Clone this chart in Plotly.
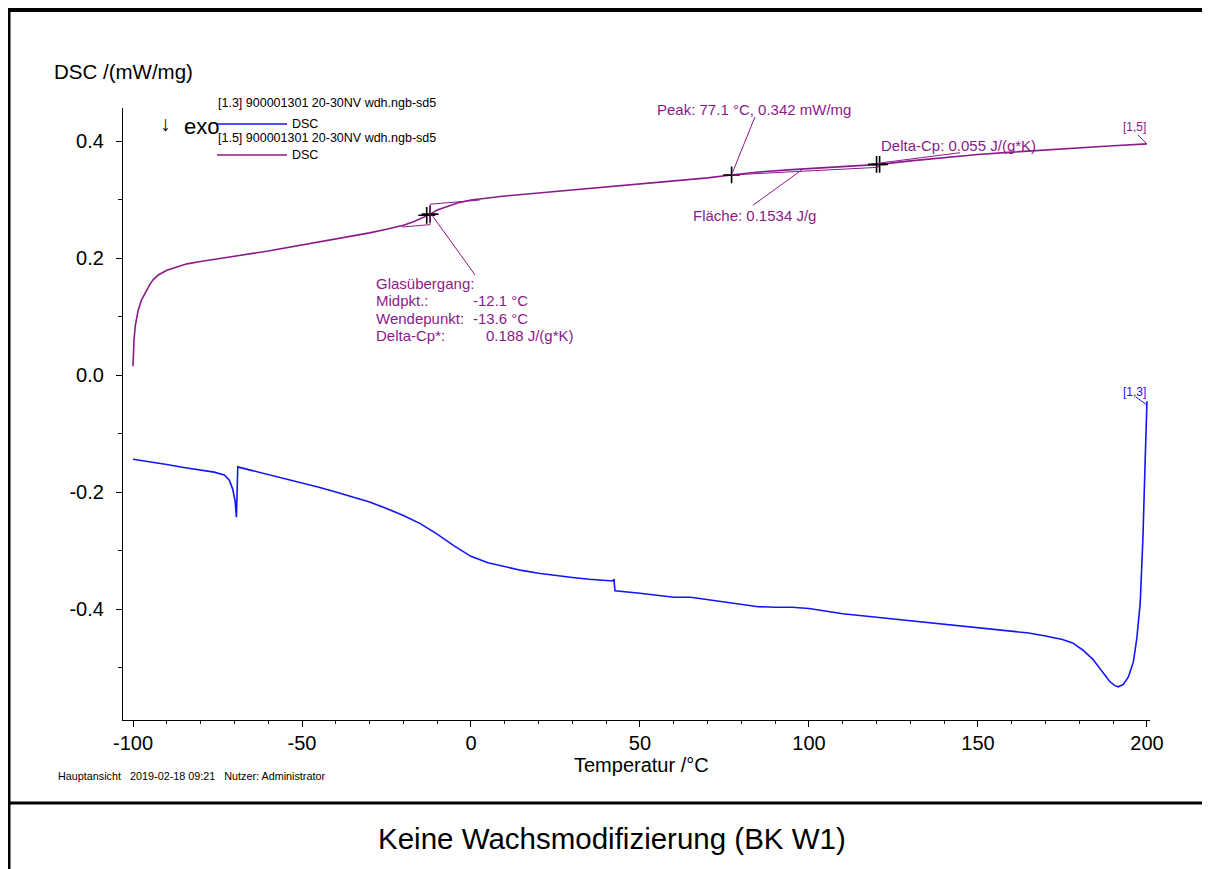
import plotly.graph_objects as go

# ---------------- data ----------------
# sample [1.3] (blue)
t_13 = [-100, -95, -90, -85, -80, -76, -73, -71.5, -70.5, -69.8, -69.4, -69.0,
        -65, -60, -55, -50, -45, -40, -35, -30, -25, -20, -15, -10, -5, 0,
        5, 10, 15, 20, 25, 30, 35, 40, 42, 42.3, 42.6, 50, 55, 60, 65, 70,
        75, 80, 85, 90, 95, 100, 105, 110, 120, 130, 140, 150, 160, 165,
        170, 175, 178, 181, 184, 187, 189, 190.5, 191.5, 193, 194.5, 196, 197,
        198, 198.8, 199.4, 199.8, 200]
dsc_13 = [-0.144, -0.148, -0.153, -0.158, -0.163, -0.166, -0.171, -0.180, -0.195,
          -0.215, -0.243, -0.157, -0.163, -0.170, -0.177, -0.184, -0.192, -0.200,
          -0.208, -0.217, -0.228, -0.240, -0.254, -0.272, -0.292, -0.310, -0.321,
          -0.328, -0.334, -0.339, -0.343, -0.346, -0.349, -0.351, -0.352, -0.349,
          -0.369, -0.373, -0.377, -0.380, -0.380, -0.384, -0.389, -0.393, -0.396,
          -0.397, -0.397, -0.399, -0.404, -0.408, -0.414, -0.420, -0.426, -0.432,
          -0.438, -0.441, -0.446, -0.452, -0.458, -0.470, -0.486, -0.510, -0.524,
          -0.531, -0.533, -0.529, -0.516, -0.490, -0.450, -0.390, -0.280, -0.160,
          -0.080, -0.045]

# sample [1.5] (purple)
t_15 = [-100, -99.7, -99.3, -98.5, -97.5, -96, -95, -94, -92.5, -90, -87, -84,
        -80, -75, -70, -60, -50, -40, -30, -25, -20, -17, -14, -12, -10, -7,
        -4, 0, 5, 10, 20, 30, 40, 50, 60, 70, 77, 85, 95, 105, 115, 121, 130,
        140, 150, 160, 170, 180, 190, 200]
dsc_15 = [0.015, 0.060, 0.085, 0.110, 0.128, 0.145, 0.155, 0.163, 0.171, 0.179,
          0.185, 0.190, 0.194, 0.199, 0.203, 0.212, 0.222, 0.232, 0.243, 0.249,
          0.256, 0.262, 0.269, 0.275, 0.282, 0.288, 0.294, 0.299, 0.303, 0.306,
          0.311, 0.316, 0.321, 0.326, 0.331, 0.337, 0.342, 0.347, 0.351, 0.354,
          0.357, 0.360, 0.366, 0.372, 0.377, 0.381, 0.385, 0.389, 0.392, 0.395]

# evaluation points
tg_mid = (-12.1, 0.275)
peak = (77.1, 0.342)
dcp_pt = (120.5, 0.360)

x_ticks = [-100, -50, 0, 50, 100, 150, 200]
y_ticks = [-0.4, -0.2, 0.0, 0.2, 0.4]

BLUE = "#1414F5"
PURPLE = "#8B1A89"
FONT = "Arial, Liberation Sans, sans-serif"

# page body has an 8px margin, so the figure is a bit smaller and shifted
OFF = 8
W, H = 1210 - OFF, 869 - OFF
L, R, T, B = 123 - OFF, 60, 108 - OFF, 149


def px(x):
    return (x - OFF - L) / (W - L - R)


def py(y):
    return (H - B - (y - OFF)) / (H - T - B)


fig = go.Figure()

fig.add_trace(go.Scatter(x=t_13, y=dsc_13, mode="lines",
                         line=dict(color=BLUE, width=1.6), hoverinfo="skip"))
fig.add_trace(go.Scatter(x=t_15, y=dsc_15, mode="lines",
                         line=dict(color=PURPLE, width=1.6), hoverinfo="skip"))

# evaluation markers
fig.add_trace(go.Scatter(
    x=[tg_mid[0] - 1.0, tg_mid[0], peak[0], dcp_pt[0] - 0.5, dcp_pt[0] + 0.4],
    y=[tg_mid[1] - 0.002, tg_mid[1], peak[1], dcp_pt[1], dcp_pt[1]],
    mode="markers",
    marker=dict(symbol="cross-thin", size=12, line=dict(color="black", width=1.6)),
    hoverinfo="skip"))

shapes = []


def seg(x0, y0, x1, y1, color=PURPLE, width=1, ref="data"):
    d = dict(type="line", x0=x0, y0=y0, x1=x1, y1=y1,
             line=dict(color=color, width=width))
    if ref == "paper":
        d.update(xref="paper", yref="paper")
    shapes.append(d)


# glass transition construction
seg(-12.1, 0.292, 2.5, 0.299)
seg(-12.1, 0.292, -12.1, 0.257)
seg(-20.5, 0.253, -12.1, 0.257)
seg(-11.5, 0.273, 1.2, 0.171)
# peak / area construction
seg(peak[0], peak[1], dcp_pt[0], 0.355)
seg(dcp_pt[0], 0.355, dcp_pt[0], 0.362)
seg(84.0, 0.441, 77.3, 0.345)
seg(83.4, 0.290, 98.2, 0.352)
seg(120.5, 0.362, 144.7, 0.380)
# end labels ticks
seg(px(1138), py(135), px(1146), py(143), PURPLE, 1, "paper")
seg(px(1136), py(397), px(1147), py(405), BLUE, 1, "paper")

# legend lines
seg(px(217), py(124), px(287), py(124), BLUE, 1.3, "paper")
seg(px(217), py(155), px(287), py(155), PURPLE, 1.3, "paper")

# page frame
seg(px(8), py(10), px(1210), py(10), "black", 4, "paper")
seg(px(9), py(8), px(9), py(869), "black", 3, "paper")
seg(px(8), py(803), px(1210), py(803), "black", 3, "paper")

annotations = []


def txt(x, y, text, size=15, color=PURPLE, anchor="left"):
    annotations.append(dict(x=px(x), y=py(y), xref="paper", yref="paper",
                            text=text, showarrow=False, xanchor=anchor,
                            yanchor="middle",
                            font=dict(family=FONT, size=size, color=color)))


txt(374, 283, "Glasübergang:")
txt(374, 300, "Midpkt.:")
txt(374, 318, "Wendepunkt:")
txt(374, 335, "Delta-Cp*:")
txt(471, 300, "-12.1 °C")
txt(471, 318, "-13.6 °C")
txt(484, 335, "0.188 J/(g*K)")
txt(655, 109, "Peak: 77.1 °C, 0.342 mW/mg")
txt(691, 215, "Fläche: 0.1534 J/g")
txt(879, 145, "Delta-Cp: 0.055 J/(g*K)")
txt(1121, 127, "[1,5]", 12)
txt(1121, 392, "[1,3]", 12, BLUE)

txt(216, 103, "[1.3] 900001301 20-30NV wdh.ngb-sd5", 12.5, "black")
txt(290, 124, "DSC", 12.5, "black")
txt(216, 138, "[1.5] 900001301 20-30NV wdh.ngb-sd5", 12.5, "black")
txt(290, 155, "DSC", 12.5, "black")
txt(158, 123, "↓", 21, "black")
txt(182, 126, "exo", 22, "black")

txt(52, 72, "DSC /(mW/mg)", 20.5, "black")
txt(641, 765, "Temperatur /°C", 20, "black", "center")
txt(56, 776, "Hauptansicht &nbsp;&nbsp;2019-02-18 09:21 &nbsp;&nbsp;Nutzer: Administrator",
    10.8, "black")
txt(612, 838, "Keine Wachsmodifizierung (BK W1)", 29.5, "black", "center")

fig.update_layout(
    width=W, height=H,
    margin=dict(l=L, r=R, t=T, b=B),
    paper_bgcolor="white", plot_bgcolor="white",
    showlegend=False,
    font=dict(family=FONT, color="black"),
    shapes=shapes,
    annotations=annotations,
    xaxis=dict(range=[-102.96, 200.9], tickvals=x_ticks,
               ticktext=[str(v) for v in x_ticks],
               ticks="outside", ticklen=6, tickwidth=1, tickcolor="black",
               minor=dict(dtick=10, tick0=0, ticks="outside", ticklen=3,
                          tickcolor="black"),
               ticklabelstandoff=-1,
               showline=True, linecolor="black", linewidth=1.2,
               showgrid=False, zeroline=False,
               tickfont=dict(size=20, family=FONT)),
    yaxis=dict(range=[-0.5897, 0.4564], tickvals=y_ticks,
               ticktext=["-0.4", "-0.2", "0.0", "0.2", "0.4"],
               ticks="outside", ticklen=6, tickwidth=1, tickcolor="black",
               minor=dict(dtick=0.1, tick0=0, ticks="outside", ticklen=4,
                          tickcolor="black"),
               ticklabelstandoff=8,
               showline=True, linecolor="black", linewidth=1.2,
               showgrid=False, zeroline=False,
               tickfont=dict(size=20, family=FONT)),
)

fig.write_html("out.html")
